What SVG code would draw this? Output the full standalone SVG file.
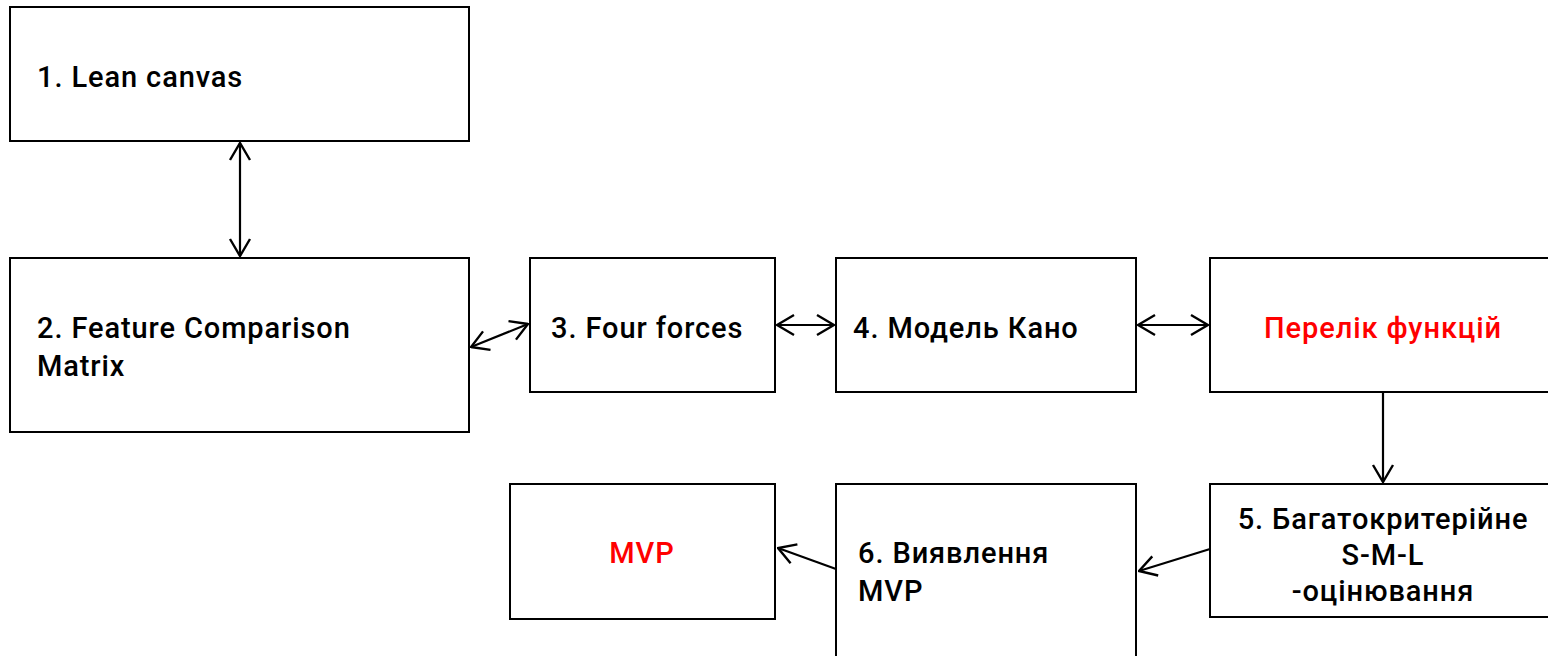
<svg xmlns="http://www.w3.org/2000/svg" width="1548" height="656" viewBox="0 0 1548 656">
<style>
.box{fill:#fff;stroke:#000;stroke-width:2}
.t{font-family:Roboto,"Noto Sans",sans-serif;font-size:29px;font-weight:500;letter-spacing:0.9px;fill:#000}
.r{fill:#ff0000}
.c{text-anchor:middle}
.ln{fill:none;stroke:#000;stroke-width:2.2}
</style>
<defs>
<marker id="ah" viewBox="0 0 20 24" refX="19" refY="12" markerWidth="20" markerHeight="24" markerUnits="userSpaceOnUse" orient="auto-start-reverse">
<path d="M2,2 L19,12 L2,22" fill="none" stroke="#000" stroke-width="2.4"/>
</marker>
</defs>
<g id="connectors">
<line class="ln" x1="240" y1="143" x2="240" y2="256" marker-start="url(#ah)" marker-end="url(#ah)"/>
<line class="ln" x1="471" y1="347" x2="528" y2="324" marker-start="url(#ah)" marker-end="url(#ah)"/>
<line class="ln" x1="777" y1="325" x2="834" y2="325" marker-start="url(#ah)" marker-end="url(#ah)"/>
<line class="ln" x1="1138" y1="325" x2="1208" y2="325" marker-start="url(#ah)" marker-end="url(#ah)"/>
<line class="ln" x1="1383" y1="393" x2="1383" y2="482" marker-end="url(#ah)"/>
<line class="ln" x1="1210" y1="549" x2="1139" y2="571" marker-end="url(#ah)"/>
<line class="ln" x1="836" y1="569" x2="778" y2="548" marker-end="url(#ah)"/>
</g>
<g id="n1"><rect class="box" x="10" y="7" width="459" height="134"/><text class="t" x="37" y="87">1. Lean canvas</text></g>
<g id="n2"><rect class="box" x="10" y="258" width="459" height="174"/><text class="t" x="37" y="338">2. Feature Comparison</text><text class="t" x="37" y="376">Matrix</text></g>
<g id="n3"><rect class="box" x="530" y="258" width="245" height="134"/><text class="t" x="551" y="338">3. Four forces</text></g>
<g id="n4"><rect class="box" x="836" y="258" width="300" height="134"/><text class="t" x="853" y="338">4. Модель Кано</text></g>
<g id="nlist"><rect class="box" x="1210" y="258" width="340" height="134"/><text class="t r c" x="1383" y="338">Перелік функцій</text></g>
<g id="n5"><rect class="box" x="1210" y="484" width="340" height="133"/><text class="t c" x="1383" y="529">5. Багатокритерійне</text><text class="t c" x="1383" y="565">S-M-L</text><text class="t c" x="1383" y="601">-оцінювання</text></g>
<g id="n6"><rect class="box" x="836" y="484" width="300" height="180"/><text class="t" x="858" y="563">6. Виявлення</text><text class="t" x="858" y="601">MVP</text></g>
<g id="nmvp"><rect class="box" x="510" y="484" width="265" height="135"/><text class="t r c" x="642" y="563">MVP</text></g>
</svg>
